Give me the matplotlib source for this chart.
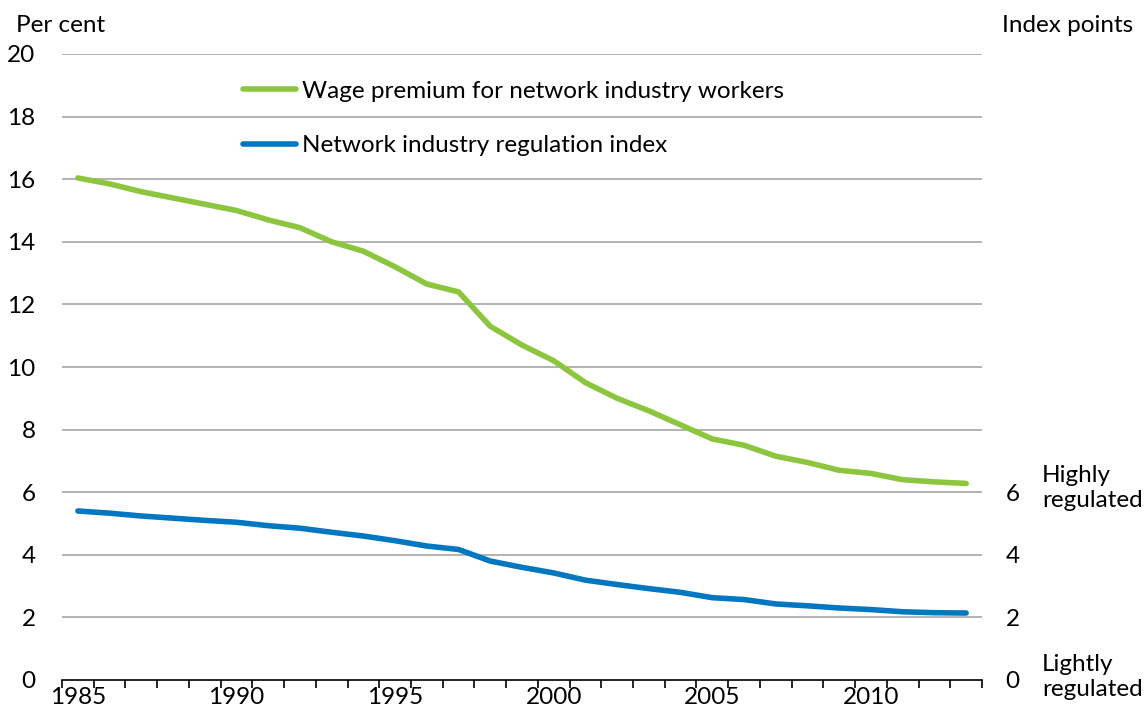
import numpy as np
import matplotlib.pyplot as plt
from matplotlib.lines import Line2D

years = list(range(1985, 2014))
wage_premium = [16.04, 15.85, 15.6, 15.4, 15.2, 15.0, 14.7, 14.45, 14.0, 13.7,
                13.2, 12.65, 12.4, 11.3, 10.7, 10.2, 9.5, 9.0, 8.6, 8.15,
                7.7, 7.5, 7.15, 6.95, 6.7, 6.6, 6.4, 6.33, 6.28]
regulation_index = [5.4, 5.33, 5.24, 5.17, 5.1, 5.04, 4.93, 4.85, 4.72, 4.6,
                    4.45, 4.28, 4.17, 3.8, 3.6, 3.42, 3.19, 3.05, 2.92, 2.8,
                    2.63, 2.57, 2.43, 2.37, 2.3, 2.25, 2.18, 2.15, 2.14]
left_ticks = list(range(0, 21, 2))
right_ticks = [0, 2, 4, 6]
year_labels = [1985, 1990, 1995, 2000, 2005, 2010]

green = '#8cc63f'
blue = '#0077c0'
plt.rcParams['font.family'] = ['Lato', 'DejaVu Sans']
fs = 17.5

fig = plt.figure(figsize=(11.48, 7.15), dpi=100)
ax = fig.add_axes([62 / 1148, 1 - 680 / 715, 920 / 1148, 626 / 715])

ax.plot(years, wage_premium, color=green, lw=4, solid_capstyle='round')
ax.plot(years, regulation_index, color=blue, lw=4, solid_capstyle='round')

ax.set_xlim(1984.5, 2013.5)
ax.set_ylim(0, 20)
for t in left_ticks[1:]:
    ax.axhline(t, color='#a6a6a6', lw=1.2, zorder=0)

ax.set_yticks(left_ticks)
ax.tick_params(axis='y', length=0, labelsize=fs, pad=19)
ax.set_xticks(year_labels)
ax.set_xticks(np.arange(1984.5, 2014, 1), minor=True)
ax.tick_params(axis='x', which='major', length=0, labelsize=fs, pad=5)
ax.tick_params(axis='x', which='minor', length=6, width=1.2, direction='out', color='black')

for s in ['top', 'left', 'right']:
    ax.spines[s].set_visible(False)
ax.spines['bottom'].set_linewidth(1.2)

ax2 = ax.twinx()
ax2.set_ylim(0, 20)
ax2.set_yticks(right_ticks)
ax2.tick_params(axis='y', length=0, labelsize=fs, pad=17)
for s in ax2.spines.values():
    s.set_visible(False)

fig.text(16 / 1148, 1 - 25 / 715, 'Per cent', fontsize=fs, va='center', ha='left')
fig.text(1002 / 1148, 1 - 25 / 715, 'Index points', fontsize=fs, va='center', ha='left')
fig.text(1042 / 1148, 1 - 488 / 715, 'Highly\nregulated', fontsize=fs, va='center', ha='left',
         linespacing=1.2)
fig.text(1042 / 1148, 1 - 677 / 715, 'Lightly\nregulated', fontsize=fs, va='center', ha='left',
         linespacing=1.2)

handles = [Line2D([], [], color=green, lw=4, solid_capstyle='round'),
           Line2D([], [], color=blue, lw=4, solid_capstyle='round')]
leg = ax.legend(handles, ['Wage premium for network industry workers',
                          'Network industry regulation index'],
                loc='upper left', bbox_to_anchor=(171 / 920, 1 - 17 / 626), frameon=False,
                fontsize=fs, handlelength=2.2, handletextpad=0.25, labelspacing=1.38,
                borderaxespad=0)

fig.savefig('out.png', dpi=100)
